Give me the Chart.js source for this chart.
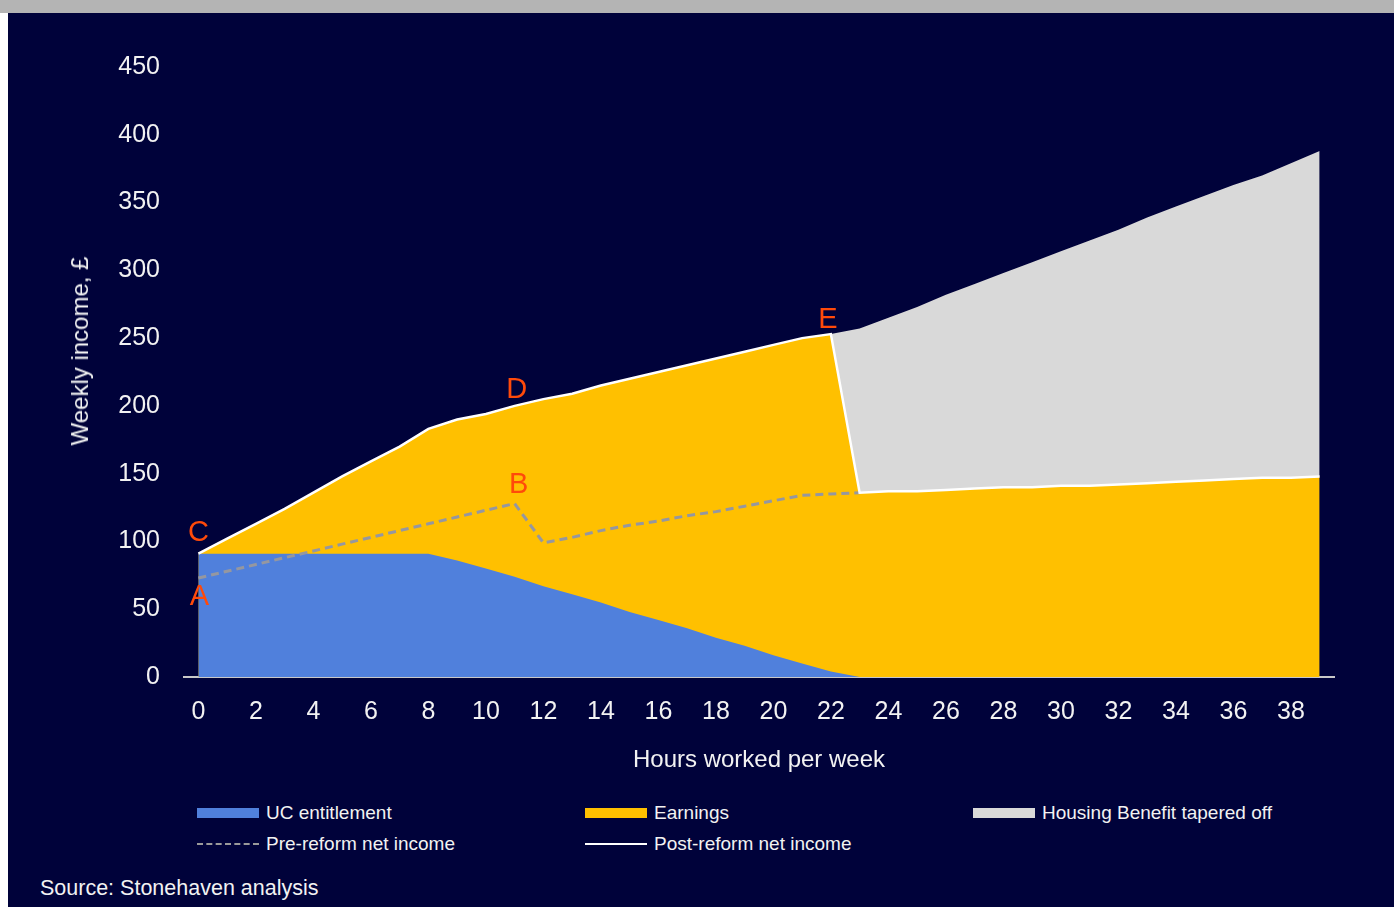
<!DOCTYPE html>
<html>
<head>
<meta charset="utf-8">
<script src="https://cdn.jsdelivr.net/npm/chart.js@4"></script>
<style>
  html, body { margin: 0; padding: 0; }
  body { width: 1394px; height: 907px; background: #ffffff; position: relative; overflow: hidden;
         font-family: "Liberation Sans", Arial, sans-serif; }
  #topbar { position: absolute; left: 0; top: 0; width: 1394px; height: 13px; background: #b4b4b4; }
  #panel { position: absolute; left: 8px; top: 13px; width: 1386px; height: 894px; background: #00023a; }
  #wrap { position: absolute; left: 8px; top: 13px; width: 1386px; height: 767px; }
  #ytitle { position: absolute; left: 80px; top: 351px; color: #f2f2f2; font-size: 24px;
            transform: translate(-50%, -50%) rotate(-90deg); white-space: nowrap; }
  .leg { position: absolute; color: #f2f2f2; font-size: 19px; white-space: nowrap; line-height: 20px; }
  .sw { position: absolute; left: 0; width: 62px; }
  .leg span.t { position: absolute; left: 69px; top: 0; }
  #source { position: absolute; left: 40px; top: 876px; color: #f2f2f2; font-size: 21.5px; }
</style>
</head>
<body>
<div id="topbar"></div>
<div id="panel"></div>
<div id="wrap"><canvas id="chart" width="1386" height="767"></canvas></div>
<div id="ytitle">Weekly income, £</div>

<div class="leg" style="left:197px; top:803px;"><div class="sw" style="top:5px; height:10px; background:#5080dc;"></div><span class="t">UC entitlement</span></div>
<div class="leg" style="left:585px; top:803px;"><div class="sw" style="top:5px; height:10px; background:#ffc000;"></div><span class="t">Earnings</span></div>
<div class="leg" style="left:973px; top:803px;"><div class="sw" style="top:5px; height:10px; background:#d9d9d9;"></div><span class="t">Housing Benefit tapered off</span></div>
<div class="leg" style="left:197px; top:834px;"><div class="sw" style="top:9px; height:0; border-top:2px dashed #9a9a9a;"></div><span class="t">Pre-reform net income</span></div>
<div class="leg" style="left:585px; top:834px;"><div class="sw" style="top:9px; height:0; border-top:2px solid #ffffff;"></div><span class="t">Post-reform net income</span></div>

<div id="source">Source: Stonehaven analysis</div>

<script>
// hours worked per week, 0..39
const hours = [0, 1, 2, 3, 4, 5, 6, 7, 8, 9, 10, 11, 12, 13, 14, 15, 16, 17, 18, 19,
               20, 21, 22, 23, 24, 25, 26, 27, 28, 29, 30, 31, 32, 33, 34, 35, 36, 37, 38, 39];

// UC entitlement (£/week)
const ucEntitlement = [91, 91, 91, 91, 91, 91, 91, 91, 91, 86, 80, 74, 67, 61, 55, 48, 42, 36, 29, 23,
                       16, 10, 4, 0, 0, 0, 0, 0, 0, 0, 0, 0, 0, 0, 0, 0, 0, 0, 0, 0];

// post-reform net income (top of the earnings area)
const postReform = [91, 102, 113, 124, 136, 148, 159, 170, 183, 190, 194, 200, 205, 209, 215, 220, 225, 230, 235, 240,
                    245, 250, 253, 136, 137, 137, 138, 139, 140, 140, 141, 141, 142, 143, 144, 145, 146, 147, 147, 148];

// income before housing benefit is tapered away
const housingTop = [null, null, null, null, null, null, null, null, null, null, null, null, null, null, null, null, null, null, null, null,
                    null, null, 253, 257, 265, 273, 282, 290, 298, 306, 314, 322, 330, 339, 347, 355, 363, 370, 379, 388];

// pre-reform net income
const preReform = [73, 78, 83, 88, 93, 98, 103, 108, 113, 118, 123, 128, 99, 103, 108, 112, 115, 119, 122, 126,
                   130, 134, 135, 136, null, null, null, null, null, null, null, null, null, null, null, null, null, null, null, null];

// point letters drawn on the chart
const pointLetters = ['A', 'B', 'C', 'D', 'E'];
const pointHours = [0, 11, 0, 11, 22];
const pointSeries = ['pre', 'pre', 'post', 'post', 'post'];

const letterPlugin = {
    id: 'letters',
    afterDatasetsDraw(chart) {
        const ctx = chart.ctx;
        const x = chart.scales.x, y = chart.scales.y;
        const lift = { A: -19, B: 18, C: 21, D: 16, E: 14 };
        const shift = { A: 1, B: 4, C: 0, D: 2, E: -3 };
        ctx.save();
        ctx.font = '29px "Liberation Sans", Arial, sans-serif';
        ctx.fillStyle = '#ff4a0a';
        ctx.textAlign = 'center';
        ctx.textBaseline = 'middle';
        pointLetters.forEach((t, i) => {
            const h = pointHours[i];
            const v = pointSeries[i] === 'pre' ? preReform[h] : postReform[h];
            ctx.fillText(t, x.getPixelForValue(h) + shift[t], y.getPixelForValue(v) - lift[t]);
        });
        ctx.restore();
    }
};

const ctx = document.getElementById('chart').getContext('2d');
new Chart(ctx, {
    type: 'line',
    data: {
        labels: hours,
        datasets: [
            {
                label: 'Housing Benefit tapered off',
                data: housingTop,
                backgroundColor: '#d9d9d9',
                borderWidth: 0,
                fill: { target: 1 },
                order: 5
            },
            {
                label: 'Earnings',
                data: postReform,
                backgroundColor: '#ffc000',
                borderWidth: 0,
                fill: 'origin',
                order: 4
            },
            {
                label: 'UC entitlement',
                data: ucEntitlement,
                backgroundColor: '#5080dc',
                borderWidth: 0,
                fill: 'origin',
                order: 3
            },
            {
                label: 'Pre-reform net income',
                data: preReform,
                borderColor: '#9597a0',
                borderWidth: 3,
                borderDash: [8, 5],
                fill: false,
                order: 2
            },
            {
                label: 'Post-reform net income',
                data: postReform,
                borderColor: '#ffffff',
                borderWidth: 2.5,
                fill: false,
                order: 1
            }
        ]
    },
    options: {
        responsive: false,
        animation: false,
        elements: { point: { radius: 0 }, line: { tension: 0 } },
        layout: { padding: { left: 55, right: 60, top: 54, bottom: 5 } },
        plugins: {
            legend: { display: false },
            tooltip: { enabled: false }
        },
        scales: {
            x: {
                type: 'category',
                offset: true,
                grid: { display: false, drawTicks: false },
                border: { display: true, color: '#c8c8c8', width: 2 },
                ticks: {
                    autoSkip: false,
                    maxRotation: 0,
                    padding: 20,
                    color: '#f2f2f2',
                    font: { family: '"Liberation Sans", Arial, sans-serif', size: 25 },
                    callback: function (val, i) { return hours[i] % 2 === 0 ? hours[i] : ''; }
                },
                title: {
                    display: true,
                    text: 'Hours worked per week',
                    color: '#f2f2f2',
                    font: { family: '"Liberation Sans", Arial, sans-serif', size: 24 },
                    padding: 0
                },
                afterFit(scale) { scale.height = 98; }
            },
            y: {
                min: 0,
                max: 450,
                grid: { display: false, drawTicks: false },
                border: { display: false },
                ticks: {
                    stepSize: 50,
                    padding: 24,
                    color: '#f2f2f2',
                    font: { family: '"Liberation Sans", Arial, sans-serif', size: 25 }
                },
                afterFit(scale) { scale.width = 121; }
            }
        }
    },
    plugins: [letterPlugin]
});
</script>
</body>
</html>
